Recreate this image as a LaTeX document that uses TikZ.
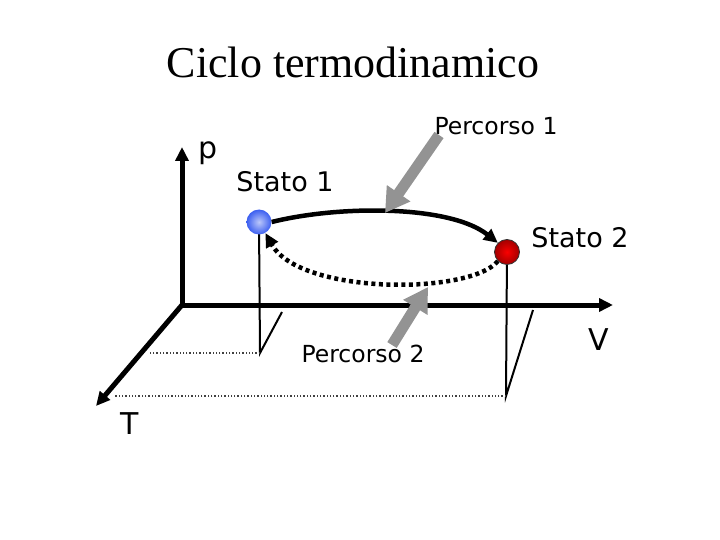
\documentclass[tikz,border=0pt]{standalone}
\usepackage{fontspec}
\setmainfont{Liberation Serif}
\setsansfont{DejaVu Sans}
\usetikzlibrary{arrows.meta}

\definecolor{sblue}{RGB}{60,95,240}
\definecolor{sred}{RGB}{250,0,0}

\tikzset{
    axis/.style={line width=5pt, -{Triangle[length=14pt, width=13pt]}},
    drop/.style={line width=2pt},
    floor/.style={line width=1.3pt, dotted, black!75},
    state/.style={circle, minimum size=25pt, inner sep=0pt, shading=radial},
    pointer/.style={line width=11pt, gray!85, -{Triangle[length=24pt, width=27pt]}},
    lbl/.style={font=\sffamily\fontsize{27}{27}\selectfont},
    small/.style={font=\sffamily\fontsize{23.5}{23.5}\selectfont},
    axlbl/.style={font=\sffamily\fontsize{30}{30}\selectfont},
}

\begin{document}
\begin{tikzpicture}[x=1pt, y=-1pt]
    \useasboundingbox (0,0) rectangle (720,540);

    % Titolo
    \node[font=\fontsize{44}{44}\selectfont] (title) at (353,62) {Ciclo termodinamico};

    % Assi p, V, T
    \coordinate (O) at (182,305);
    \coordinate (pend) at (182,147);
    \coordinate (vend) at (613,305);
    \coordinate (tend) at (96,406);
    \draw[axis] (O) -- (pend);
    \draw[axis] (O) -- (vend);
    \draw[axis] (O) -- (tend);
    \node[axlbl] (p) at (208,153) {p};
    \node[axlbl] (V) at (599,340) {V};
    \node[axlbl] (T) at (130,424) {T};

    % Proiezioni degli stati
    \coordinate (c1) at (259,222);
    \coordinate (c2) at (507,252);
    \coordinate (f1) at (260,353);
    \coordinate (f2) at (506,396);
    \coordinate (v1) at (282,312);
    \coordinate (v2) at (533,310);
    \coordinate (t1) at (150,353);
    \coordinate (t2) at (115,396);
    \draw[drop] (c1) -- (f1) -- (v1);
    \draw[drop] (c2) -- (f2) -- (v2);
    \draw[floor] (f1) -- (t1);
    \draw[floor] (f2) -- (t2);

    % Stati
    \node[state, inner color=sblue!35!white, outer color=sblue] (s1) at (c1) {};
    \node[state, inner color=sred, outer color=sred!65!black, draw=black!80, line width=0.8pt] (s2) at (c2) {};
    \node[lbl] (st1) at (285,182) {Stato 1};
    \node[lbl] (st2) at (580,238) {Stato 2};

    % Percorsi
    \draw[line width=4.5pt, -{Triangle[length=14pt, width=13pt]}]
        (s1.east) .. controls (340,205) and (450,205) .. (s2.135);
    \draw[line width=4.5pt, dash pattern=on 4pt off 3.5pt, -{Triangle[length=14pt, width=13pt]}]
        (s2.225) .. controls (470,295) and (300,295) .. (s1.300);

    % Frecce grigie
    \node[small] (pc1) at (496,126) {Percorso 1};
    \node[small] (pc2) at (363,354) {Percorso 2};
    \coordinate (a1) at (439,135);
    \coordinate (b1) at (385,213);
    \coordinate (a2) at (392,345);
    \coordinate (b2) at (428,287);
    \draw[pointer] (a1) -- (b1);
    \draw[pointer] (a2) -- (b2);

\end{tikzpicture}
\end{document}
